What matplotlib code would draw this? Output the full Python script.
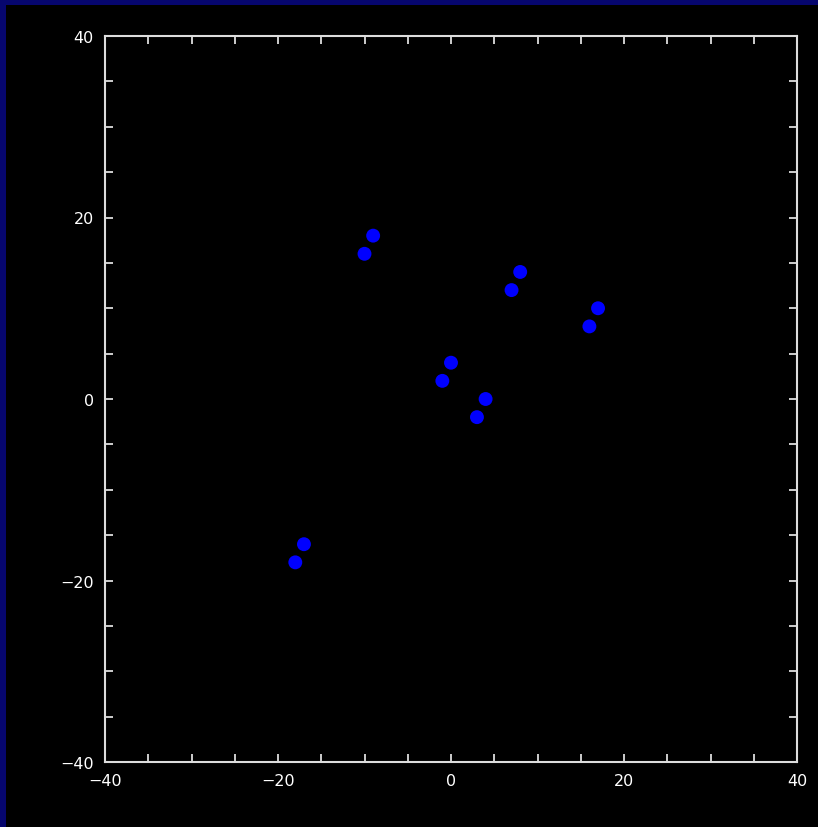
import matplotlib
matplotlib.use("Agg")
import matplotlib.pyplot as plt
from matplotlib.patches import Rectangle
from matplotlib.ticker import MultipleLocator

x_vals = [-10, -9, 7, 8, 16, 17, -1, 0, 3, 4, -18, -17]
y_vals = [16, 18, 12, 14, 8, 10, 2, 4, -2, 0, -18, -16]
tick_vals = [-40, -20, 0, 20, 40]

W, H = 818, 828
fig = plt.figure(figsize=(W / 100, H / 100), dpi=100)
fig.patch.set_facecolor('#06066e')
bl, bt = 6, 6
fig.add_artist(Rectangle((bl / W, 0), (W - bl) / W, (H - bt) / H,
                         transform=fig.transFigure, facecolor='black',
                         edgecolor='none', zorder=0))

ax = fig.add_axes([105 / W, (H - 763) / H, (797 - 105) / W, (763 - 37) / H])
ax.set_facecolor('black')
ax.scatter(x_vals, y_vals, s=100, color='#0000ff', edgecolors='none', zorder=3)

ax.set_xlim(-40, 40)
ax.set_ylim(-40, 40)
ax.set_xticks(tick_vals)
ax.set_yticks(tick_vals)
ax.xaxis.set_minor_locator(MultipleLocator(5))
ax.yaxis.set_minor_locator(MultipleLocator(5))
for which in ('major', 'minor'):
    ax.tick_params(axis='both', which=which, direction='in', length=6, width=1.3,
                   color='#dddddd', top=True, right=True, labelcolor='white',
                   labelsize=11.5, pad=8)
for lab in ax.get_yticklabels():
    lab.set_verticalalignment('center_baseline')
for s in ax.spines.values():
    s.set_color('#dddddd')
    s.set_linewidth(1.5)

fig.savefig('out.png', dpi=100, facecolor=fig.get_facecolor())
